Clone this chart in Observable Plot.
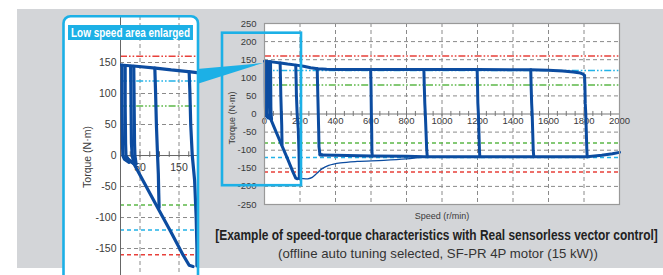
<!DOCTYPE html>
<html><head><meta charset="utf-8">
<script src="https://cdn.jsdelivr.net/npm/d3@7"></script>
<script src="https://cdn.jsdelivr.net/npm/@observablehq/plot@0.6"></script>
<style>
body{margin:0;background:#fff;}
#wrap{position:relative;width:663px;height:275px;overflow:hidden;font-family:"Liberation Sans",Arial,Helvetica,sans-serif;}
.layer{position:absolute;left:0;top:0;}
</style></head><body>
<div id="wrap">
 <div style="position:absolute;left:17px;top:9px;width:646px;height:259px;background:#d3d5d8"></div>
 <div id="main" class="layer"></div>
 <svg class="layer" width="663" height="275"><rect x="63.5" y="16.2" width="134.5" height="300" rx="7" fill="#fff"/></svg>
 <div id="inset" class="layer"></div>
 <svg id="over" class="layer" width="663" height="275"></svg>
</div>
<script>
// ---- tick labels ----
const speedTicks = [0, 200, 400, 600, 800, 1000, 1200, 1400, 1600, 1800, 2000];
const speedGrid = [200, 400, 600, 800, 1000, 1200, 1400, 1600, 1800];
const torqueTicks = [250, 200, 150, 100, 50, 0, -50, -100, -150, -200, -250];
const torqueGrid = [200, 150, 100, 50, -50, -100, -150, -200];
const insetTorqueTicks = [150, 100, 50, 0, -50, -100, -150];
const insetTorqueGrid = [150, 100, 50, -50, -100, -150];
const insetSpeedLabels = [50, 150];
const insetSpeedGrid = [50, 150];
const insetMinorTicks = [25, 50, 75, 100, 125, 150, 175];

// ---- reference torque levels ----
const refLevels = [160, 120, 80];
const refNames = ["red", "cyan", "green"];

// ---- measured speed-torque traces (speed r/min, torque N·m) ----
const topSpeed  = [0, 40, 90, 130, 180, 220, 260, 300, 350, 400, 600, 900, 1200, 1500, 1600, 1680, 1740, 1780, 1795, 1803];
const topTorque = [146, 144, 141, 138, 135, 132, 128, 125, 123.5, 123, 123, 123, 123, 122, 121, 119, 116, 113, 110, 106];

const low1Speed = [4, 4, 5, 6, 10, 22];        const low1Torque = [146, 80, 20, 0, -6, -11];
const low2Speed = [12, 12, 13, 14, 22, 34];    const low2Torque = [145, 80, 20, 0, -8, -13];
const low3Speed = [26, 27, 28, 30, 34];        const low3Torque = [144, 80, 20, 0, -12];
const low4Speed = [34, 35, 36, 37, 40];        const low4Torque = [144, 80, 20, 0, -14];
const s90Speed  = [88, 90, 92, 95, 97, 98, 99];            const s90Torque  = [141, 100, 50, 0, -30, -60, -84];
const s180Speed = [176, 178, 180, 184, 190, 194, 196, 196]; const s180Torque = [135, 100, 50, 0, -40, -100, -150, -178];
const diagSpeed = [14, 34, 60, 95, 130, 160, 176, 186];    const diagTorque = [-3, -13, -43, -84, -124, -160, -177, -179];
const s300Speed = [297, 299, 301, 303, 305, 307, 312, 325]; const s300Torque = [125, 80, 40, 0, -40, -90, -111, -113];
const s600Speed = [598, 600, 601, 602, 604, 605, 607];      const s600Torque = [123, 80, 40, 0, -50, -100, -116];
const s900Speed = [898, 900, 903, 906, 910, 914, 917];      const s900Torque = [123, 80, 30, 0, -50, -100, -118];
const s1200Speed = [1198, 1200, 1202, 1205, 1208, 1211, 1213]; const s1200Torque = [123, 80, 30, 0, -50, -100, -118];
const s1500Speed = [1500, 1502, 1505, 1508, 1511, 1514, 1517]; const s1500Torque = [122, 80, 30, 0, -50, -100, -118];
const s1800Speed = [1803, 1805, 1807, 1810, 1813, 1816, 1818]; const s1800Torque = [106, 80, 30, 0, -50, -100, -118];
const botSpeed  = [312, 400, 600, 800, 900, 1200, 1500, 1818, 1900, 1960, 2000];
const botTorque = [-113, -114, -116, -117, -118, -118, -118, -118, -114, -110, -106];
const regenSpeed  = [196, 244, 269, 297, 325, 362, 428, 522, 672, 800, 900];
const regenTorque = [-178, -179, -175, -163, -151, -142, -135, -131, -128, -124, -119];

// ---- tables ----
function rows(name, xs, ys) { return xs.map((x, i) => ({series: name, speed: x, torque: ys[i]})); }
const thick = [].concat(
  rows("top", topSpeed, topTorque), rows("low1", low1Speed, low1Torque), rows("low2", low2Speed, low2Torque),
  rows("low3", low3Speed, low3Torque), rows("low4", low4Speed, low4Torque), rows("s90", s90Speed, s90Torque),
  rows("s180", s180Speed, s180Torque), rows("diag", diagSpeed, diagTorque), rows("s300", s300Speed, s300Torque),
  rows("s600", s600Speed, s600Torque), rows("s900", s900Speed, s900Torque), rows("s1200", s1200Speed, s1200Torque),
  rows("s1500", s1500Speed, s1500Torque), rows("s1800", s1800Speed, s1800Torque), rows("bottom", botSpeed, botTorque)
);
const thin = rows("regen", regenSpeed, regenTorque);

const colors = {red: "#e8403a", cyan: "#22b3e8", green: "#5cb848"};
const refPos = refLevels.map((v, i) => ({v, c: colors[refNames[i]]}));
const refNeg = refLevels.map((v, i) => ({v: -v, c: colors[refNames[i]]}));
const BLUE = "#0c4ca0";
const GRID = {stroke: "#8a8a8a", strokeDasharray: "4,3", strokeWidth: 1};
const FONT = '"Liberation Sans",Arial,Helvetica,sans-serif';

function refMarks() {
  return [
    ...refPos.map(r => Plot.ruleY([r.v], {stroke: r.c, strokeWidth: 1.5, strokeDasharray: "7,2,1.6,2,1.6,2"})),
    ...refNeg.map(r => Plot.ruleY([r.v], {stroke: r.c, strokeWidth: 1.5, strokeDasharray: "4,3"}))
  ];
}

const main = Plot.plot({
  width: 663, height: 275, marginLeft: 264, marginRight: 44, marginTop: 23, marginBottom: 71,
  x: {domain: [0, 2000], axis: null}, y: {domain: [-250, 250], axis: null},
  style: {background: "transparent", fontFamily: FONT},
  marks: [
    Plot.frame({fill: "white"}),
    Plot.text(speedTicks, {x: d => d, y: 0, dy: 7, text: d => String(d), fontSize: 9.5, fill: "#3a3a3a"}),
    Plot.ruleX(speedGrid, GRID),
    Plot.ruleY(torqueGrid, GRID),
    ...refMarks(),
    Plot.ruleY([0], {stroke: "#777", strokeWidth: 1}),
    Plot.ruleX(d3.range(50, 2000, 50), {y1: -7, y2: 7, stroke: "#777", strokeWidth: 1}),
    Plot.line(thin, {x: "speed", y: "torque", z: "series", stroke: BLUE, strokeWidth: 1.3, curve: "catmull-rom"}),
    Plot.line(thick, {x: "speed", y: "torque", z: "series", stroke: BLUE, strokeWidth: 3, strokeLinejoin: "round", strokeLinecap: "round"}),
    Plot.frame({stroke: "#999", strokeWidth: 1.2}),
    Plot.text(torqueTicks, {x: 0, y: d => d, dx: -8, textAnchor: "end", text: d => String(d), fontSize: 9.5, fill: "#3a3a3a"})
  ]
});
document.getElementById("main").appendChild(main);

const inset = Plot.plot({
  width: 663, height: 275, marginLeft: 120, marginRight: 466, marginTop: 16, marginBottom: 0,
  x: {domain: [0, 197.4], axis: null}, y: {domain: [-193.5, 224.2], axis: null},
  style: {background: "transparent", fontFamily: FONT},
  marks: [
    Plot.ruleX(insetSpeedGrid, GRID),
    Plot.ruleY(insetTorqueGrid, GRID),
    ...refMarks(),
    Plot.ruleX([0], {stroke: "#666", strokeWidth: 1}),
    Plot.ruleY([0], {stroke: "#666", strokeWidth: 1}),
    Plot.ruleX(insetMinorTicks, {y1: -3, y2: 6, stroke: "#666", strokeWidth: 1}),
    Plot.text(insetSpeedLabels, {x: d => d, y: 0, dy: 12, text: d => String(d), fontSize: 10.5, fill: "#3a3a3a"}),
    Plot.text(insetTorqueTicks, {x: 0, y: d => d, dx: -4, textAnchor: "end", text: d => String(d), fontSize: 10.5, fill: "#3a3a3a"}),
    Plot.line(thick, {x: "speed", y: "torque", z: "series", stroke: BLUE, strokeWidth: 3.2, strokeLinejoin: "round", strokeLinecap: "round", clip: true})
  ]
});
document.getElementById("inset").appendChild(inset);

// ---- callouts & captions ----
const CY = "#1cb0e6";
const over = d3.select("#over");
over.append("rect").attr("x", 222).attr("y", 32.7).attr("width", 79).attr("height", 152.5)
  .attr("fill", "none").attr("stroke", CY).attr("stroke-width", 2.6);
over.append("polygon").attr("points", "197,69 197,84 263,63").attr("fill", CY);
over.append("rect").attr("x", 63.5).attr("y", 16.2).attr("width", 134.5).attr("height", 300).attr("rx", 7)
  .attr("fill", "none").attr("stroke", CY).attr("stroke-width", 2.6);
over.append("rect").attr("x", 68).attr("y", 25).attr("width", 125).attr("height", 15).attr("fill", CY);
function txt(x, y, s, o) {
  const t = over.append("text").attr("x", 0).attr("y", 0).text(s)
    .attr("font-family", o.family || FONT).attr("font-size", o.size).attr("fill", o.fill || "#3a3a3a")
    .attr("text-anchor", o.anchor || "middle").attr("font-weight", o.weight || "normal");
  let k = 1;
  if (o.len) { const w = t.node().getComputedTextLength(); if (w > 0) k = o.len / w; }
  t.attr("transform", `translate(${x},${y})` + (o.rot ? " rotate(-90)" : "") + (k !== 1 ? ` scale(${k},1)` : ""));
  return t;
}
txt(130.5, 37, "Low speed area enlarged", {size: 12.5, fill: "#fff", weight: "bold", len: 119, family: '"Liberation Sans Narrow","Liberation Sans",Arial,sans-serif'});
txt(235, 118, "Torque (N·m)", {size: 9, rot: true});
txt(91, 157, "Torque (N·m)", {size: 10.5, rot: true});
txt(442, 219, "Speed (r/min)", {size: 9});
txt(436.5, 239.5, "[Example of speed-torque characteristics with Real sensorless vector control]", {size: 14, weight: "bold", fill: "#222", len: 443, family: '"Liberation Sans Narrow","Liberation Sans",Arial,sans-serif'});
txt(438, 258, "(offline auto tuning selected, SF-PR 4P motor (15 kW))", {size: 12.5, fill: "#333", len: 320});
</script>
</body></html>
